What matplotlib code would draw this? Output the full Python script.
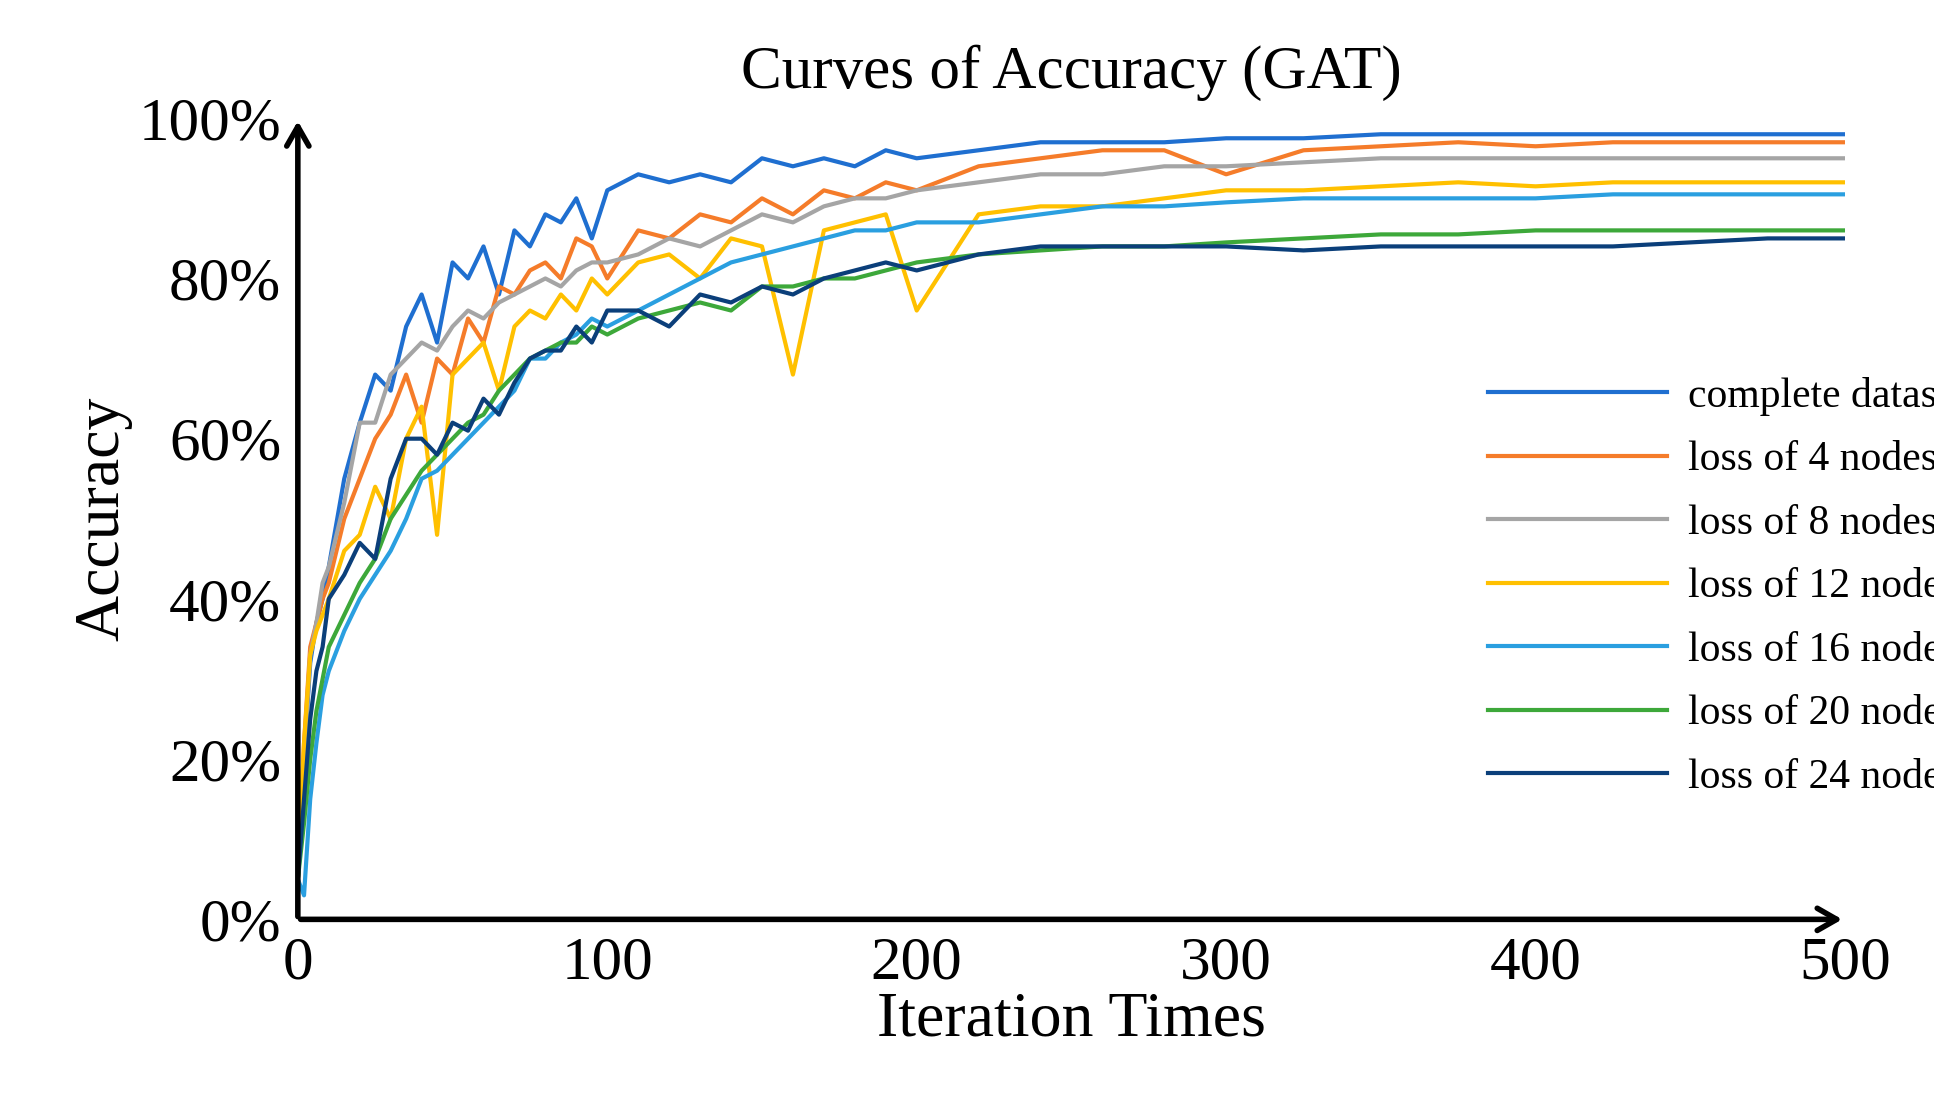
import matplotlib
matplotlib.use("Agg")
import matplotlib.pyplot as plt

iterations = [0,2,4,6,8,10,15,20,25,30,35,40,45,50,55,60,65,70,75,80,85,90,95,100,
              110,120,130,140,150,160,170,180,190,200,220,240,260,280,300,325,350,375,400,425,450,475,500]
complete = [5,20,32,37,40,44,55,62,68,66,74,78,72,82,80,84,78,86,84,88,87,90,85,91,
            93,92,93,92,95,94,95,94,96,95,96,97,97,97,97.5,97.5,98,98,98,98,98,98,98]
loss4 = [5,22,34,37,40,42,50,55,60,63,68,62,70,68,75,72,79,78,81,82,80,85,84,80,
         86,85,88,87,90,88,91,90,92,91,94,95,96,96,93,96,96.5,97,96.5,97,97,97,97]
loss8 = [5,20,33,37,42,44,52,62,62,68,70,72,71,74,76,75,77,78,79,80,79,81,82,82,
         83,85,84,86,88,87,89,90,90,91,92,93,93,94,94,94.5,95,95,95,95,95,95,95]
loss12 = [5,22,33,36,38,40,46,48,54,50,60,64,48,68,70,72,66,74,76,75,78,76,80,78,
          82,83,80,85,84,68,86,87,88,76,88,89,89,90,91,91,91.5,92,91.5,92,92,92,92]
loss16 = [5,3,15,22,28,31,36,40,43,46,50,55,56,58,60,62,64,66,70,70,72,73,75,74,
          76,78,80,82,83,84,85,86,86,87,87,88,89,89,89.5,90,90,90,90,90.5,90.5,90.5,90.5]
loss20 = [5,12,20,26,30,34,38,42,45,50,53,56,58,60,62,63,66,68,70,71,72,72,74,73,
          75,76,77,76,79,79,80,80,81,82,83,83.5,84,84,84.5,85,85.5,85.5,86,86,86,86,86]
loss24 = [5,15,25,31,34,40,43,47,45,55,60,60,58,62,61,65,63,67,70,71,71,74,72,76,
          76,74,78,77,79,78,80,81,82,81,83,84,84,84,84,83.5,84,84,84,84,84.5,85,85]

labels = ["complete dataset","loss of 4 nodes","loss of 8 nodes","loss of 12 nodes",
          "loss of 16 nodes","loss of 20 nodes","loss of 24 nodes"]
series = [complete, loss4, loss8, loss12, loss16, loss20, loss24]
colors = ["#1F6FD0","#F57C2A","#A5A5A5","#FFC000","#2A9FE0","#3DA83A","#0B3F7A"]
xticks = [0,100,200,300,400,500]
yticks = [0,20,40,60,80,100]

plt.rcParams["font.family"] = "Liberation Serif"
fig = plt.figure(figsize=(19.34,11.05), dpi=100)
ax = fig.add_axes([0.154,0.168,0.80,0.725])
for y,l,c in zip(series,labels,colors):
    ax.plot(iterations,[v/100 for v in y],color=c,lw=3,label=l)
ax.set_xlim(0,500); ax.set_ylim(0,1)
ax.set_xticks(xticks); ax.set_xticklabels([str(t) for t in xticks])
ax.set_yticks([t/100 for t in yticks]); ax.set_yticklabels([f"{t}%" for t in yticks])
ax.tick_params(labelsize=44, length=0, pad=12)
for s in ax.spines.values(): s.set_visible(False)
ax.annotate("", xy=(0,1.0), xytext=(0,0), xycoords="axes fraction",
            arrowprops=dict(arrowstyle="->,head_length=1.4,head_width=0.8",lw=4,color="black"))
ax.annotate("", xy=(1.0,0), xytext=(0,0), xycoords="axes fraction",
            arrowprops=dict(arrowstyle="->,head_length=1.4,head_width=0.8",lw=4,color="black"))
ax.set_xlabel("Iteration Times", fontsize=46, labelpad=0)
ax.set_ylabel("Accuracy", fontsize=46, labelpad=4)
ax.set_title("Curves of Accuracy (GAT)", fontsize=44, pad=22)
ax.legend(loc="center left", bbox_to_anchor=(0.745,0.415), frameon=False, fontsize=30,
          handlelength=4.3, labelspacing=0.6, handletextpad=0.5)
fig.savefig("out.png", dpi=100)
